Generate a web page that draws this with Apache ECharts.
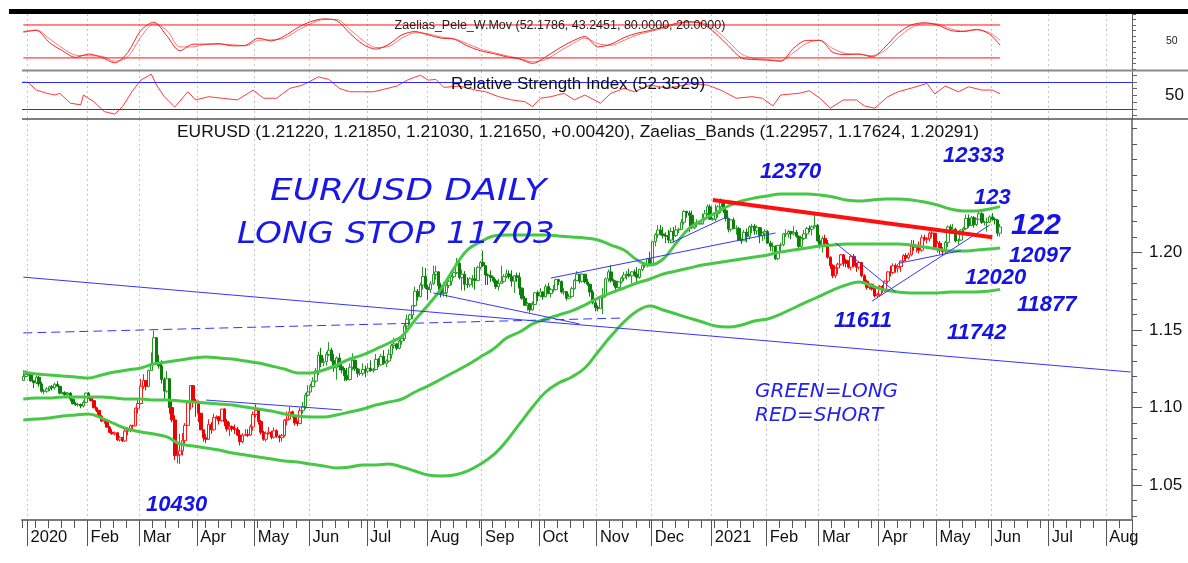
<!DOCTYPE html>
<html>
<head>
<meta charset="utf-8">
<script src="https://cdn.jsdelivr.net/npm/echarts@6/dist/echarts.min.js"></script>
<style>
html, body { margin: 0; padding: 0; background: #fff; }
#chart { width: 1188px; height: 563px; }
</style>
</head>
<body>
<div id="chart"></div>
<script>
// trading days (Mon-Fri) from 2019-12-30, axis runs on to mid Aug 2021
var firstDay = '2019-12-30';
var dayCount = 425;
var monthNames = ['Jan', 'Feb', 'Mar', 'Apr', 'May', 'Jun', 'Jul', 'Aug', 'Sep', 'Oct', 'Nov', 'Dec'];

// EURUSD daily, in pips (1.1200 -> 11200); open = previous close
var firstOpen = 11175;
var closes = [
  11200,11213,11215,11172,11160, 11195,11152,11105,11105,11120, 11134,11127,11150,11137,11092,
  11095,11083,11093,11054,11024, 11018,11020,11010,11033,11093, 11061,11044,10998,10981,10944,
  10912,10915,10873,10840,10830, 10837,10791,10805,10784,10848, 10853,10882,10882,10995,11026,
  11137,11174,11137,11239,11285, 11450,11285,11268,11181,11106, 11185,11000,10920,10690,10695,
  10720,10786,10885,11030,11141, 11044,11031,10963,10856,10805, 10795,10891,10856,10935,10940,
  10915,10990,10910,10861,10876, 10862,10860,10822,10780,10820, 10825,10822,10875,10955,10982,
  10910,10840,10795,10832,10840, 10808,10850,10815,10805,10820, 10918,10925,10972,10945,10900,
  10896,10980,11006,11080,11100, 11135,11170,11237,11337,11290, 11295,11343,11370,11302,11256,
  11320,11263,11242,11205,11180, 11260,11305,11250,11220,11220, 11245,11235,11253,11238,11245,
  11310,11275,11330,11285,11300, 11343,11400,11410,11383,11428, 11445,11526,11570,11597,11657,
  11750,11715,11790,11845,11775, 11762,11798,11858,11875,11786, 11736,11740,11786,11815,11843,
  11870,11930,11838,11860,11795, 11792,11830,11830,11820,11903, 11935,11915,11855,11850,11838,
  11817,11780,11800,11814,11845, 11862,11845,11815,11850,11840, 11770,11705,11660,11670,11630,
  11665,11740,11720,11745,11715, 11780,11735,11760,11760,11825, 11813,11745,11747,11705,11717,
  11767,11820,11860,11815,11860, 11810,11795,11745,11675,11645, 11640,11710,11720,11830,11875,
  11820,11815,11775,11810,11835, 11855,11860,11850,11875,11860, 11840,11890,11915,11915,11960,
  11927,12070,12115,12145,12120, 12110,12105,12080,12135,12110, 12145,12150,12195,12265,12255,
  12240,12160,12185,12185,12185, 12215,12250,12295,12215,12215, 12250,12295,12325,12270,12220,
  12150,12210,12155,12155,12080, 12075,12130,12105,12165,12170, 12140,12160,12110,12125,12135,
  12060,12040,12040,11960,12045, 12050,12120,12120,12135,12120, 12130,12105,12040,12090,12120,
  12155,12150,12165,12175,12075, 12045,12090,12060,11970,11915, 11850,11900,11925,11985,11950,
  11930,11905,11975,11915,11905, 11935,11850,11815,11775,11795, 11765,11720,11730,11780,11760,
  11815,11875,11870,11915,11900, 11910,11945,11980,11965,11985, 12040,12035,12035,12015,12095,
  12085,12090,12125,12125,12020, 12060,12015,12005,12065,12165, 12135,12150,12075,12080,12145,
  12155,12220,12175,12225,12180, 12215,12250,12195,12195,12195, 12230,12215,12210,12125,12165
];
var highs = [
  11240,11240,11225,11230,11175, 11205,11205,11165,11120,11130, 11140,11145,11160,11170,11140,
  11100,11105,11100,11100,11060, 11035,11030,11025,11045,11095, 11100,11065,11050,11005,10985,
  10950,10925,10920,10880,10860, 10845,10840,10815,10810,10865, 10870,10890,10890,11000,11055,
  11185,11215,11175,11245,11355, 11496,11455,11340,11305,11195, 11235,11190,11050,10950,10765,
  10830,10835,10900,11040,11145, 11145,11055,11045,10965,10860, 10830,10925,10905,10960,10950,
  10945,10990,10995,10925,10905, 10885,10890,10875,10855,10835, 10860,10860,10890,10975,11020,
  10985,10920,10850,10845,10875, 10850,10870,10860,10825,10830, 10925,10975,11005,10980,10950,
  10915,11000,11035,11095,11145, 11155,11195,11255,11360,11385, 11320,11360,11422,11385,11345,
  11330,11350,11285,11255,11255, 11285,11350,11310,11255,11250, 11285,11270,11285,11305,11255,
  11345,11320,11345,11370,11310, 11375,11410,11450,11415,11440, 11470,11540,11600,11605,11660,
  11780,11765,11805,11908,11900, 11790,11815,11915,11915,11880, 11805,11810,11800,11840,11855,
  11885,11965,11950,11890,11880, 11840,11840,11855,11905,11915, 11945,12011,11920,11865,11885,
  11845,11830,11830,11915,11860, 11890,11885,11885,11855,11870, 11870,11775,11720,11680,11675,
  11685,11745,11755,11770,11750, 11795,11805,11770,11790,11830, 11830,11820,11770,11750,11735,
  11780,11830,11880,11860,11865, 11860,11830,11800,11760,11705, 11660,11720,11770,11840,11890,
  11920,11830,11820,11815,11845, 11875,11880,11895,11880,11890, 11905,11895,11935,11940,11965,
  12005,12075,12125,12175,12178, 12165,12130,12145,12160,12165, 12175,12160,12215,12275,12270,
  12270,12270,12195,12215,12195, 12250,12275,12310,12310,12225, 12310,12305,12349,12340,12285,
  12225,12215,12225,12175,12165, 12090,12145,12155,12175,12185, 12185,12175,12165,12135,12150,
  12145,12075,12065,12045,12050, 12065,12125,12150,12145,12140, 12170,12145,12110,12100,12145,
  12165,12175,12175,12243,12185, 12115,12105,12115,12080,11975, 11925,11905,11935,11990,11990,
  11960,11950,11985,11990,11935, 11945,11940,11860,11825,11805, 11800,11780,11740,11790,11790,
  11820,11880,11915,11930,11930, 11925,11950,11990,11995,12000, 12080,12080,12045,12070,12115,
  12115,12100,12135,12150,12125, 12075,12075,12035,12075,12175, 12180,12185,12160,12090,12150,
  12165,12245,12245,12235,12235, 12220,12265,12260,12205,12225, 12240,12254,12225,12215,12185
];
var lows = [
  11170,11195,11205,11165,11125, 11150,11135,11095,11085,11095, 11105,11110,11115,11135,11085,
  11085,11075,11075,11040,11020, 11010,11005,10995,11000,11030, 11055,11040,10995,10970,10940,
  10910,10895,10870,10835,10825, 10820,10785,10780,10778,10780, 10820,10840,10860,10880,10960,
  11020,11120,11110,11130,11235, 11280,11280,11250,11155,11055, 11095,10960,10905,10660,10640,
  10636,10690,10760,10880,10985, 11000,10940,10905,10855,10780, 10770,10790,10830,10850,10925,
  10890,10910,10880,10845,10815, 10845,10830,10815,10755,10770, 10815,10810,10815,10850,10935,
  10890,10825,10785,10780,10825, 10795,10800,10805,10775,10780, 10810,10885,10920,10935,10885,
  10880,10895,10960,10990,11070, 11100,11130,11160,11210,11260, 11265,11270,11330,11295,11230,
  11180,11240,11220,11170,11170, 11175,11240,11235,11195,11205, 11205,11195,11220,11230,11225,
  11240,11260,11270,11275,11260, 11290,11315,11380,11370,11375, 11405,11430,11505,11535,11570,
  11650,11690,11710,11760,11765, 11695,11740,11790,11825,11755, 11710,11715,11710,11770,11790,
  11835,11860,11825,11755,11755, 11770,11775,11775,11760,11815, 11890,11905,11790,11790,11810,
  11805,11765,11755,11800,11805, 11835,11830,11780,11740,11810, 11725,11695,11655,11625,11612,
  11625,11660,11685,11710,11695, 11710,11730,11710,11745,11755, 11790,11735,11725,11690,11700,
  11710,11760,11815,11800,11805, 11800,11785,11715,11665,11620, 11620,11640,11603,11710,11810,
  11805,11785,11745,11760,11800, 11815,11825,11840,11800,11845, 11800,11830,11880,11900,11905,
  11925,11925,12040,12095,12110, 12090,12060,12060,12060,12065, 12100,12125,12145,12180,12225,
  12130,12150,12150,12165,12180, 12180,12205,12240,12210,12205, 12200,12225,12255,12255,12200,
  12130,12135,12150,12115,12075, 12055,12075,12065,12085,12125, 12115,12115,12060,12075,12085,
  12055,12010,12005,11952,11950, 12010,12040,12100,12095,12085, 12110,12095,12025,12025,12080,
  12090,12130,12110,12155,12070, 12025,12000,12040,11960,11895, 11835,11835,11860,11915,11910,
  11905,11895,11885,11905,11875, 11890,11840,11805,11760,11760, 11755,11710,11704,11715,11740,
  11745,11800,11845,11860,11870, 11870,11875,11940,11945,11955, 11975,12010,12000,11995,12005,
  12075,12060,12070,12095,12015, 12000,11990,11985,11995,12035, 12120,12125,12065,12050,12075,
  12125,12145,12160,12170,12160, 12170,12210,12185,12175,12135, 12190,12205,12180,12105,12103
];

// long / short regime (candle colour), from each date on
var signalFrom = ['2019-12-30', '2020-02-04', '2020-03-05', '2020-03-18', '2020-05-27', '2021-03-03', '2021-05-06'];
var signalSide = ['long', 'short', 'long', 'short', 'long', 'short', 'long'];

// Pele and bands read once a week (each Monday) plus the last day
var peleFast = [68,70,48,33,21,27,21,11,30,70,85,60,33,45,45,46,42,43,56,51,60,75,86,91,88,65,45,36,45,62,
  68,62,56,54,42,33,28,22,18,10,22,37,50,59,40,45,57,65,70,76,83,86,82,65,42,20,17,16,14,38,
  52,52,30,26,27,22,40,65,80,84,80,70,68,72,63,43];
var peleSlow = [66,71,55,38,25,24,23,14,22,58,82,70,40,40,45,45,44,42,52,53,56,70,82,90,90,72,52,39,41,56,
  66,64,58,55,46,36,30,24,19,13,17,31,45,56,46,43,52,62,68,74,81,85,84,71,50,27,19,17,15,30,
  47,52,37,28,27,24,34,57,75,83,82,73,69,71,66,52];
var peleLevels = [80, 20];
var bandUpper = [1.1229,1.1216,1.1210,1.1203,1.1197,1.1190,1.1210,1.1229,1.1242,1.1255,1.1281,1.1294,1.1306,1.1319,1.1326,
  1.1319,1.1313,1.1300,1.1287,1.1268,1.1248,1.1223,1.1223,1.1242,1.1274,1.1313,1.1339,1.1377,1.1416,1.1461,
  1.1565,1.1661,1.1765,1.1900,1.2016,1.2068,1.2106,1.2113,1.2113,1.2113,1.2113,1.2106,1.2100,1.2094,1.2081,
  1.2048,1.2016,1.1952,1.1919,1.1958,1.2061,1.2158,1.2210,1.2255,1.2300,1.2332,1.2352,1.2365,1.2377,1.2377,
  1.2377,1.2371,1.2358,1.2339,1.2332,1.2339,1.2345,1.2345,1.2339,1.2326,1.2306,1.2281,1.2268,1.2268,1.2281,1.2296];
var bandMiddle = [1.1055,1.1061,1.1061,1.1068,1.1068,1.1068,1.1068,1.1061,1.1055,1.1055,1.1048,1.1048,1.1042,1.1035,1.1029,
  1.1023,1.1016,1.1003,1.0990,1.0977,1.0958,1.0945,1.0939,1.0939,1.0952,1.0971,1.0990,1.1016,1.1035,1.1055,
  1.1100,1.1139,1.1184,1.1229,1.1274,1.1326,1.1377,1.1448,1.1487,1.1539,1.1571,1.1597,1.1623,1.1661,1.1706,
  1.1739,1.1771,1.1803,1.1829,1.1861,1.1881,1.1900,1.1919,1.1932,1.1945,1.1958,1.1971,1.1984,1.2003,1.2016,
  1.2029,1.2042,1.2048,1.2055,1.2055,1.2055,1.2055,1.2055,1.2048,1.2035,1.2023,1.2010,1.2010,1.2016,1.2023,1.2029];
var bandLower = [1.0919,1.0926,1.0932,1.0945,1.0952,1.0958,1.0932,1.0894,1.0861,1.0842,1.0829,1.0810,1.0765,1.0752,1.0739,
  1.0726,1.0706,1.0694,1.0681,1.0668,1.0655,1.0648,1.0635,1.0623,1.0610,1.0616,1.0629,1.0629,1.0635,1.0616,
  1.0590,1.0565,1.0558,1.0565,1.0590,1.0635,1.0694,1.0784,1.0894,1.1003,1.1100,1.1158,1.1197,1.1255,1.1358,
  1.1461,1.1552,1.1623,1.1655,1.1629,1.1603,1.1577,1.1552,1.1526,1.1519,1.1532,1.1558,1.1571,1.1603,1.1642,
  1.1681,1.1719,1.1758,1.1790,1.1810,1.1784,1.1758,1.1745,1.1739,1.1739,1.1739,1.1745,1.1745,1.1745,1.1752,1.1762];

// RSI read at its turning points: trading-day number (0 = first day) and value
var rsiDay = [0,2,5,9,12,14,18,22,23,27,31,35,38,42,45,49,51,54,58,63,66,71,76,82,88,92,97,102,107,113,
  117,121,125,130,134,138,143,147,152,155,158,161,167,173,177,182,187,192,195,198,202,207,211,215,221,225,230,234,240,247,
  256,262,267,273,279,283,287,290,297,301,305,309,314,319,322,326,331,335,341,346,349,353,358,362,367,371,374];
var rsi = [70,68.5,57.8,53,50.5,53,38.4,35.9,50.5,40.7,26,22.2,33.4,57.8,72.5,81.3,65.2,48,32.5,55.3,
  43.2,48,45.7,43.2,57.8,45.7,45.7,60.3,65.2,77.3,73.5,60.3,55.3,55.3,55.3,58.9,63.7,72.5,79.8,72.5,
  73.5,61.8,63.7,57.8,55.3,48,43.2,40.7,33.4,45.7,48,53,43.2,50.5,38.4,53,60.3,55.3,65.2,60.3,
  67.6,65.2,57.8,45.7,48,45.7,34.4,50.5,53,56.8,45.7,31,43.2,43.2,34.4,31,48,55.3,61.8,67.6,
  52,63.7,55.3,62.7,57.8,57.8,52.35];
var rsiLevels = [70, 30];

// hand-drawn trend lines: start/end date and price
var trendFrom = ['2019-12-30', '2019-12-30', '2020-04-06', '2020-08-05', '2020-10-07', '2020-12-10', '2021-03-09', '2021-03-29', '2021-04-12'];
var trendFromPrice = [1.1841, 1.1481, 1.1048, 1.1739, 1.1835, 1.2061, 1.2061, 1.1687, 1.1930];
var trendTo = ['2021-08-13', '2020-11-13', '2020-06-17', '2020-10-22', '2021-02-04', '2021-01-11', '2021-04-09', '2021-05-31', '2021-05-14'];
var trendToPrice = [1.1229, 1.1577, 1.0984, 1.1539, 1.2126, 1.2235, 1.1745, 1.2177, 1.2012];
var trendDashed = [false, true, false, false, false, false, false, false, false];
var resistFrom = ['2021-01-01', 1.2339];
var resistTo = ['2021-06-01', 1.2098];

var priceLabels = [1.05, 1.10, 1.15, 1.20];
var priceTicks = [1.03,1.04,1.05,1.06,1.07,1.08,1.09,1.10,1.11,1.12,1.13,1.14,1.15,1.16,1.17,1.18,1.19,1.20,1.21,1.22,1.23,1.24,1.25,1.26,1.27,1.28];

var annotations = [
  ['12370', 760, 172, 22], ['12333', 943, 156, 22], ['123', 974, 198, 22], ['122', 1011, 226, 30],
  ['12097', 1009, 256, 22], ['12020', 965, 278, 22], ['11877', 1017, 305, 22], ['11611', 834, 321, 22],
  ['11742', 947, 333, 22], ['10430', 146, 505, 22]
];

// ---- build
var days = [];
var d = new Date(firstDay + 'T00:00:00Z');
while (days.length < dayCount) {
  var wd = d.getUTCDay();
  if (wd !== 0 && wd !== 6) days.push(d.toISOString().slice(0, 10));
  d.setUTCDate(d.getUTCDate() + 1);
}
var monthStart = days.map(function (v, i) { return i > 0 && v.slice(5, 7) !== days[i - 1].slice(5, 7); });
var monday = days.map(function (v) { return new Date(v + 'T00:00:00Z').getUTCDay() === 1; });

var lastIdx = closes.length - 1;
var weekIdx = [];
for (var k = 0; k * 5 < lastIdx; k++) weekIdx.push(k * 5);
weekIdx.push(lastIdx);
function weekly(vals) { return weekIdx.map(function (i, j) { return [days[i], vals[j]]; }); }

function sideOf(day) {
  var s = signalSide[0];
  for (var j = 0; j < signalFrom.length; j++) if (day >= signalFrom[j]) s = signalSide[j];
  return s;
}
var longCandles = [], shortCandles = [];
var prev = firstOpen;
closes.forEach(function (c, i) {
  var item = [prev / 1e4, c / 1e4, lows[i] / 1e4, highs[i] / 1e4];
  if (sideOf(days[i]) === 'long') { longCandles.push(item); shortCandles.push('-'); }
  else { shortCandles.push(item); longCandles.push('-'); }
  prev = c;
});

var font = '"Liberation Sans", Arial, sans-serif';
var hand = '"DejaVu Sans", sans-serif';
var gridLine = { show: true, interval: function (i) { return monthStart[i]; }, lineStyle: { color: '#c4c4c4', type: [2, 3], width: 1 } };

function panelX(grid) {
  return {
    type: 'category', gridIndex: grid, data: days, boundaryGap: true,
    axisLine: { show: false }, axisTick: { show: false }, axisLabel: { show: false },
    splitLine: gridLine
  };
}

var priceMin = 1.02742, priceMax = 1.28613;

var series = [
  { type: 'line', xAxisIndex: 0, yAxisIndex: 0, data: weekly(peleSlow), symbol: 'none', smooth: 0.3,
    lineStyle: { color: '#ff7474', width: 1 } },
  { type: 'line', xAxisIndex: 0, yAxisIndex: 0, data: weekly(peleFast), symbol: 'none', smooth: 0.3,
    lineStyle: { color: '#ee2424', width: 1 } }
];
peleLevels.forEach(function (v) {
  series.push({ type: 'line', xAxisIndex: 0, yAxisIndex: 0, data: [[days[0], v], [days[lastIdx], v]],
    symbol: 'none', lineStyle: { color: '#ff1010', width: 1 } });
});
series.push({
  type: 'line', xAxisIndex: 1, yAxisIndex: 1, symbol: 'none',
  data: rsiDay.map(function (i, j) { return [days[i], rsi[j]]; }),
  lineStyle: { color: '#ff3a3a', width: 1 },
  markLine: { silent: true, symbol: 'none', label: { show: false }, animation: false,
    lineStyle: { color: '#2a2aff', type: 'solid', width: 1 },
    data: rsiLevels.map(function (v) { return { yAxis: v }; }) }
});
series.push({
  type: 'candlestick', xAxisIndex: 2, yAxisIndex: 2, data: longCandles, barWidth: 3,
  itemStyle: { color: '#ffffff', color0: '#0a800a', borderColor: '#249c24', borderColor0: '#0a800a', borderWidth: 1 }
});
series.push({
  type: 'candlestick', xAxisIndex: 2, yAxisIndex: 2, data: shortCandles, barWidth: 3,
  itemStyle: { color: '#ffffff', color0: '#f00000', borderColor: '#ff1a1a', borderColor0: '#f00000', borderWidth: 1 }
});
[bandUpper, bandMiddle, bandLower].forEach(function (b) {
  series.push({ type: 'line', xAxisIndex: 2, yAxisIndex: 2, data: weekly(b), symbol: 'none', smooth: 0.4,
    lineStyle: { color: '#46c846', width: 3 }, z: 4 });
});
trendFrom.forEach(function (t, i) {
  series.push({ type: 'line', xAxisIndex: 2, yAxisIndex: 2, symbol: 'none', z: 5,
    data: [[t, trendFromPrice[i]], [trendTo[i], trendToPrice[i]]],
    lineStyle: { color: '#3434ff', width: 1, type: trendDashed[i] ? [9, 5] : 'solid' } });
});
series.push({ type: 'line', xAxisIndex: 2, yAxisIndex: 2, symbol: 'none', z: 6,
  data: [resistFrom, resistTo], lineStyle: { color: '#ff1010', width: 4 } });

var graphics = [
  { type: 'rect', shape: { x: 9, y: 9, width: 1179, height: 5 }, style: { fill: '#000' }, z: 50 },
  { type: 'line', shape: { x1: 22, y1: 70.5, x2: 1188, y2: 70.5 }, style: { stroke: '#8a8a8a', lineWidth: 2 }, z: 50 },
  { type: 'line', shape: { x1: 22, y1: 119, x2: 1188, y2: 119 }, style: { stroke: '#555', lineWidth: 1.5 }, z: 50 },
  { type: 'text', x: 560, y: 26, z: 60, style: { text: 'Zaelias_Pele_W.Mov (52.1786, 43.2451, 80.0000, 20.0000)',
    font: '12.5px ' + font, fill: '#222', align: 'center', verticalAlign: 'middle' } },
  { type: 'text', x: 578, y: 84, z: 60, style: { text: 'Relative Strength Index (52.3529)',
    font: '17px ' + font, fill: '#111', align: 'center', verticalAlign: 'middle' } },
  { type: 'text', x: 578, y: 132, z: 60, style: { text: 'EURUSD (1.21220, 1.21850, 1.21030, 1.21650, +0.00420), Zaelias_Bands (1.22957, 1.17624, 1.20291)',
    font: '17.4px ' + font, fill: '#111', align: 'center', verticalAlign: 'middle' } },
  { type: 'text', x: 270, y: 192, z: 60, scaleX: 1.2, style: { text: 'EUR/USD DAILY',
    font: 'italic 30px ' + hand, fill: '#1818e8', verticalAlign: 'middle' } },
  { type: 'text', x: 237, y: 235, z: 60, scaleX: 1.14, style: { text: 'LONG STOP 11703',
    font: 'italic 30px ' + hand, fill: '#1818e8', verticalAlign: 'middle' } },
  { type: 'text', x: 755, y: 392, z: 60, style: { text: 'GREEN=LONG',
    font: 'italic 20px ' + hand, fill: '#2222ee', verticalAlign: 'middle' } },
  { type: 'text', x: 755, y: 416, z: 60, style: { text: 'RED=SHORT',
    font: 'italic 20px ' + hand, fill: '#2222ee', verticalAlign: 'middle' } }
];
annotations.forEach(function (a) {
  graphics.push({ type: 'text', x: a[1], y: a[2], z: 60, style: { text: a[0],
    font: 'italic bold ' + a[3] + 'px ' + font, fill: '#1414e6', verticalAlign: 'middle' } });
});

var chart = echarts.init(document.getElementById('chart'), null, { renderer: 'canvas' });
chart.setOption({
  animation: false,
  backgroundColor: '#ffffff',
  grid: [
    { left: 22, right: 56, top: 14, height: 56 },
    { left: 22, right: 56, top: 71, height: 48 },
    { left: 22, right: 56, top: 119, height: 401 }
  ],
  xAxis: [
    panelX(0),
    panelX(1),
    {
      type: 'category', gridIndex: 2, position: 'bottom', data: days, boundaryGap: true,
      axisLine: { lineStyle: { color: '#7a7a7a', width: 2 } },
      axisTick: { show: true, interval: function (i) { return monthStart[i]; }, length: 26, lineStyle: { color: '#555', width: 1 } },
      axisLabel: {
        interval: function (i) { return monthStart[i]; },
        formatter: function (v) { var m = +v.slice(5, 7); return m === 1 ? v.slice(0, 4) : monthNames[m - 1]; },
        align: 'left', padding: [0, 0, 0, 2], margin: 9, fontSize: 16.5, color: '#111', fontFamily: font
      },
      splitLine: gridLine
    },
    {
      type: 'category', gridIndex: 2, position: 'bottom', data: days, boundaryGap: true,
      axisLine: { show: false },
      axisTick: { show: true, interval: function (i) { return monday[i]; }, length: 8, lineStyle: { color: '#555', width: 1 } },
      axisLabel: { show: false }, splitLine: { show: false }
    }
  ],
  yAxis: [
    { type: 'value', gridIndex: 0, position: 'right', min: -2, max: 100, scale: true,
      axisLine: { show: true, lineStyle: { color: '#666' } },
      axisTick: { show: true, length: 4, customValues: [0, 10, 20, 30, 40, 50, 60, 70, 80, 90, 100], lineStyle: { color: '#666' } },
      axisLabel: { customValues: [50], fontSize: 10.5, color: '#222', margin: 34, fontFamily: font },
      splitLine: { show: false } },
    { type: 'value', gridIndex: 1, position: 'right', min: 15, max: 86, scale: true,
      axisLine: { show: true, lineStyle: { color: '#666' } },
      axisTick: { show: true, length: 5, customValues: [20, 30, 40, 50, 60, 70, 80], lineStyle: { color: '#666' } },
      axisLabel: { customValues: [50], fontSize: 17, color: '#111', margin: 33, fontFamily: font },
      splitLine: { show: false } },
    { type: 'value', gridIndex: 2, position: 'right', min: priceMin, max: priceMax, scale: true,
      axisLine: { show: true, lineStyle: { color: '#666', width: 1.5 } },
      axisTick: { show: true, length: 10, customValues: priceLabels, lineStyle: { color: '#555' } },
      axisLabel: { customValues: priceLabels, formatter: function (v) { return v.toFixed(2); },
        fontSize: 17, color: '#111', margin: 17, fontFamily: font },
      splitLine: { show: false } },
    { type: 'value', gridIndex: 2, position: 'right', min: priceMin, max: priceMax, scale: true,
      axisLine: { show: false },
      axisTick: { show: true, length: 5, customValues: priceTicks, lineStyle: { color: '#555' } },
      axisLabel: { show: false }, splitLine: { show: false } }
  ],
  graphic: graphics,
  series: series
});
</script>
</body>
</html>
